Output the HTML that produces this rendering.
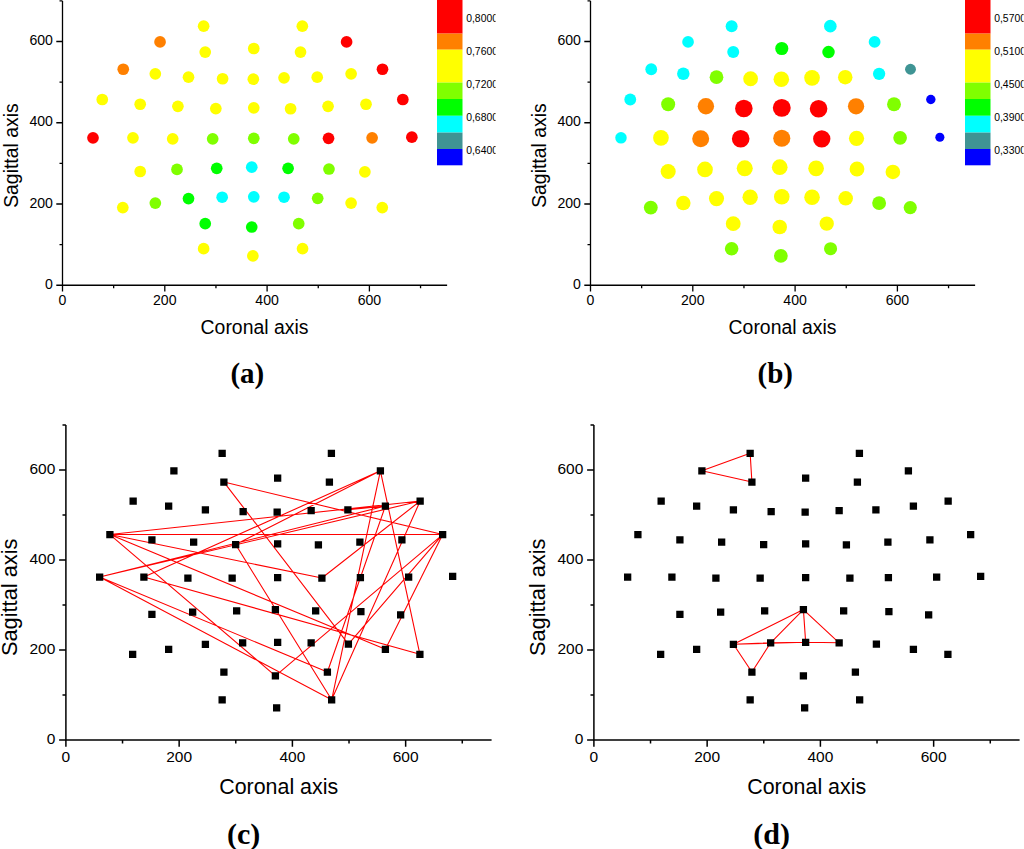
<!DOCTYPE html>
<html><head><meta charset="utf-8"><style>
html,body{margin:0;padding:0;background:#fff;}
svg{display:block;font-family:"Liberation Sans",sans-serif;}
</style></head><body>
<svg width="1024" height="849" viewBox="0 0 1024 849">
<defs><clipPath id="clipa"><rect x="0" y="0" width="495.6" height="849"/></clipPath><clipPath id="clipb"><rect x="528" y="0" width="495.6" height="849"/></clipPath></defs>
<rect width="1024" height="849" fill="#fff"/>
<path d="M62.5 0.88V285.25H447.12" fill="none" stroke="#000" stroke-width="1.3"/>
<path d="M62.5 285.25v6.2M113.65 285.25v3M164.8 285.25v6.2M215.95 285.25v3M267.1 285.25v6.2M318.25 285.25v3M369.4 285.25v6.2M420.55 285.25v3M62.5 285.25h-6.2M62.5 244.62h-3M62.5 204h-6.2M62.5 163.38h-3M62.5 122.75h-6.2M62.5 82.12h-3M62.5 41.5h-6.2M62.5 0.88h-3" fill="none" stroke="#000" stroke-width="1.3"/>
<text x="62.5" y="305.05" text-anchor="middle" font-size="14.1">0</text>
<text x="164.8" y="305.05" text-anchor="middle" font-size="14.1">200</text>
<text x="267.1" y="305.05" text-anchor="middle" font-size="14.1">400</text>
<text x="369.4" y="305.05" text-anchor="middle" font-size="14.1">600</text>
<text x="52.9" y="288.75" text-anchor="end" font-size="14.1">0</text>
<text x="52.9" y="207.5" text-anchor="end" font-size="14.1">200</text>
<text x="52.9" y="126.25" text-anchor="end" font-size="14.1">400</text>
<text x="52.9" y="45" text-anchor="end" font-size="14.1">600</text>
<text transform="translate(18.4 155.6) rotate(-90)" text-anchor="middle" font-size="19.4">Sagittal axis</text>
<text x="254.5" y="334.2" text-anchor="middle" font-size="19.4">Coronal axis</text>
<text x="247.3" y="383" text-anchor="middle" font-size="29" font-family="Liberation Serif" font-weight="bold">(a)</text>
<rect x="437" y="0" width="25.5" height="33.6" fill="#ff0000"/>
<rect x="437" y="33.6" width="25.5" height="16.1" fill="#ff8000"/>
<rect x="437" y="49.7" width="25.5" height="32.9" fill="#ffff00"/>
<rect x="437" y="82.6" width="25.5" height="16.4" fill="#80ff00"/>
<rect x="437" y="99" width="25.5" height="16.8" fill="#00ff00"/>
<rect x="437" y="115.8" width="25.5" height="16.8" fill="#00ffff"/>
<rect x="437" y="132.6" width="25.5" height="16.4" fill="#3f9494"/>
<rect x="437" y="149" width="25.5" height="16.3" fill="#0000ff"/>
<g clip-path="url(#clipa)">
<text x="466.2" y="22" font-size="10.4">0,8000</text>
<text x="466.2" y="55" font-size="10.4">0,7600</text>
<text x="466.2" y="88" font-size="10.4">0,7200</text>
<text x="466.2" y="121" font-size="10.4">0,6800</text>
<text x="466.2" y="154" font-size="10.4">0,6400</text>
</g>
<path d="M590.5 0.88V285.25H975.12" fill="none" stroke="#000" stroke-width="1.3"/>
<path d="M590.5 285.25v6.2M641.65 285.25v3M692.8 285.25v6.2M743.95 285.25v3M795.1 285.25v6.2M846.25 285.25v3M897.4 285.25v6.2M948.55 285.25v3M590.5 285.25h-6.2M590.5 244.62h-3M590.5 204h-6.2M590.5 163.38h-3M590.5 122.75h-6.2M590.5 82.12h-3M590.5 41.5h-6.2M590.5 0.88h-3" fill="none" stroke="#000" stroke-width="1.3"/>
<text x="590.5" y="305.05" text-anchor="middle" font-size="14.1">0</text>
<text x="692.8" y="305.05" text-anchor="middle" font-size="14.1">200</text>
<text x="795.1" y="305.05" text-anchor="middle" font-size="14.1">400</text>
<text x="897.4" y="305.05" text-anchor="middle" font-size="14.1">600</text>
<text x="580.9" y="288.75" text-anchor="end" font-size="14.1">0</text>
<text x="580.9" y="207.5" text-anchor="end" font-size="14.1">200</text>
<text x="580.9" y="126.25" text-anchor="end" font-size="14.1">400</text>
<text x="580.9" y="45" text-anchor="end" font-size="14.1">600</text>
<text transform="translate(546.4 155.6) rotate(-90)" text-anchor="middle" font-size="19.4">Sagittal axis</text>
<text x="782.5" y="334.2" text-anchor="middle" font-size="19.4">Coronal axis</text>
<text x="775.3" y="383" text-anchor="middle" font-size="29" font-family="Liberation Serif" font-weight="bold">(b)</text>
<rect x="965" y="0" width="25.5" height="33.6" fill="#ff0000"/>
<rect x="965" y="33.6" width="25.5" height="16.1" fill="#ff8000"/>
<rect x="965" y="49.7" width="25.5" height="32.9" fill="#ffff00"/>
<rect x="965" y="82.6" width="25.5" height="16.4" fill="#80ff00"/>
<rect x="965" y="99" width="25.5" height="16.8" fill="#00ff00"/>
<rect x="965" y="115.8" width="25.5" height="16.8" fill="#00ffff"/>
<rect x="965" y="132.6" width="25.5" height="16.4" fill="#3f9494"/>
<rect x="965" y="149" width="25.5" height="16.3" fill="#0000ff"/>
<g clip-path="url(#clipb)">
<text x="994.2" y="22" font-size="10.4">0,5700</text>
<text x="994.2" y="55" font-size="10.4">0,5100</text>
<text x="994.2" y="88" font-size="10.4">0,4500</text>
<text x="994.2" y="121" font-size="10.4">0,3900</text>
<text x="994.2" y="154" font-size="10.4">0,3300</text>
</g>
<circle cx="203.64" cy="26.15" r="5.85" fill="#ffff00"/>
<circle cx="160.06" cy="41.95" r="5.85" fill="#ff8000"/>
<circle cx="205.22" cy="52.11" r="5.85" fill="#ffff00"/>
<circle cx="123.25" cy="69.26" r="5.85" fill="#ff8000"/>
<circle cx="155.32" cy="73.78" r="5.85" fill="#ffff00"/>
<circle cx="188.51" cy="77.16" r="5.85" fill="#ffff00"/>
<circle cx="102.25" cy="99.5" r="5.85" fill="#ffff00"/>
<circle cx="140.18" cy="104.24" r="5.85" fill="#ffff00"/>
<circle cx="177.9" cy="106.28" r="5.85" fill="#ffff00"/>
<circle cx="215.84" cy="108.53" r="5.85" fill="#ffff00"/>
<circle cx="92.99" cy="137.87" r="5.85" fill="#ff0000"/>
<circle cx="132.96" cy="137.87" r="5.85" fill="#ffff00"/>
<circle cx="172.7" cy="138.78" r="5.85" fill="#ffff00"/>
<circle cx="212.68" cy="138.78" r="5.85" fill="#80ff00"/>
<circle cx="140.18" cy="171.5" r="5.85" fill="#ffff00"/>
<circle cx="176.99" cy="169.47" r="5.85" fill="#80ff00"/>
<circle cx="216.74" cy="168.34" r="5.85" fill="#00ff00"/>
<circle cx="302.33" cy="26.15" r="5.85" fill="#ffff00"/>
<circle cx="346.59" cy="41.95" r="5.85" fill="#ff0000"/>
<circle cx="253.78" cy="48.5" r="5.85" fill="#ffff00"/>
<circle cx="300.52" cy="52.11" r="5.85" fill="#ffff00"/>
<circle cx="382.5" cy="69.26" r="5.85" fill="#ff0000"/>
<circle cx="222.61" cy="78.74" r="5.85" fill="#ffff00"/>
<circle cx="253.32" cy="79.19" r="5.85" fill="#ffff00"/>
<circle cx="284.04" cy="77.84" r="5.85" fill="#ffff00"/>
<circle cx="317.23" cy="77.16" r="5.85" fill="#ffff00"/>
<circle cx="351.11" cy="73.78" r="5.85" fill="#ffff00"/>
<circle cx="402.82" cy="99.5" r="5.85" fill="#ff0000"/>
<circle cx="253.78" cy="107.86" r="5.85" fill="#ffff00"/>
<circle cx="290.59" cy="108.76" r="5.85" fill="#ffff00"/>
<circle cx="328.07" cy="106.28" r="5.85" fill="#ffff00"/>
<circle cx="366.01" cy="104.24" r="5.85" fill="#ffff00"/>
<circle cx="253.78" cy="138.32" r="5.85" fill="#80ff00"/>
<circle cx="293.75" cy="138.78" r="5.85" fill="#80ff00"/>
<circle cx="328.53" cy="138.32" r="5.85" fill="#ff0000"/>
<circle cx="372.11" cy="137.87" r="5.85" fill="#ff8000"/>
<circle cx="411.86" cy="137.2" r="5.85" fill="#ff0000"/>
<circle cx="251.74" cy="167.21" r="5.85" fill="#00ffff"/>
<circle cx="288.1" cy="168.34" r="5.85" fill="#00ff00"/>
<circle cx="328.98" cy="169.02" r="5.85" fill="#80ff00"/>
<circle cx="364.88" cy="171.95" r="5.85" fill="#ffff00"/>
<circle cx="122.8" cy="207.61" r="5.85" fill="#ffff00"/>
<circle cx="155.32" cy="203.1" r="5.85" fill="#80ff00"/>
<circle cx="188.51" cy="198.58" r="5.85" fill="#00ff00"/>
<circle cx="205.22" cy="223.64" r="5.85" fill="#00ff00"/>
<circle cx="203.64" cy="248.69" r="5.85" fill="#ffff00"/>
<circle cx="222.16" cy="197.23" r="5.85" fill="#00ffff"/>
<circle cx="253.78" cy="196.78" r="5.85" fill="#00ffff"/>
<circle cx="284.04" cy="197.23" r="5.85" fill="#00ffff"/>
<circle cx="317.69" cy="198.36" r="5.85" fill="#80ff00"/>
<circle cx="351.11" cy="203.1" r="5.85" fill="#ffff00"/>
<circle cx="382.27" cy="207.61" r="5.85" fill="#ffff00"/>
<circle cx="251.74" cy="227.02" r="5.85" fill="#00ff00"/>
<circle cx="298.72" cy="223.64" r="5.85" fill="#80ff00"/>
<circle cx="252.87" cy="255.91" r="5.85" fill="#ffff00"/>
<circle cx="302.55" cy="248.69" r="5.85" fill="#ffff00"/>
<circle cx="731.64" cy="26.15" r="6" fill="#00ffff"/>
<circle cx="688.06" cy="41.95" r="5.85" fill="#00ffff"/>
<circle cx="733.22" cy="52.11" r="6" fill="#00ffff"/>
<circle cx="651.25" cy="69.26" r="5.9" fill="#00ffff"/>
<circle cx="683.32" cy="73.78" r="6.25" fill="#00ffff"/>
<circle cx="716.51" cy="77.16" r="6.85" fill="#80ff00"/>
<circle cx="630.25" cy="99.5" r="5.9" fill="#00ffff"/>
<circle cx="668.18" cy="104.24" r="7" fill="#80ff00"/>
<circle cx="705.9" cy="106.28" r="8.2" fill="#ff8000"/>
<circle cx="743.84" cy="108.53" r="8.75" fill="#ff0000"/>
<circle cx="620.99" cy="137.87" r="5.75" fill="#00ffff"/>
<circle cx="660.96" cy="137.87" r="7.85" fill="#ffff00"/>
<circle cx="700.7" cy="138.78" r="8.5" fill="#ff8000"/>
<circle cx="740.68" cy="138.78" r="8.8" fill="#ff0000"/>
<circle cx="668.18" cy="171.5" r="7.55" fill="#ffff00"/>
<circle cx="704.99" cy="169.47" r="7.85" fill="#ffff00"/>
<circle cx="744.74" cy="168.34" r="8.03" fill="#ffff00"/>
<circle cx="830.33" cy="26.15" r="6.3" fill="#00ffff"/>
<circle cx="874.59" cy="41.95" r="5.9" fill="#00ffff"/>
<circle cx="781.78" cy="48.5" r="6.55" fill="#00ff00"/>
<circle cx="828.52" cy="52.11" r="6.25" fill="#00ff00"/>
<circle cx="910.5" cy="69.26" r="5.45" fill="#3f9494"/>
<circle cx="750.61" cy="78.74" r="7.4" fill="#ffff00"/>
<circle cx="781.32" cy="79.19" r="7.8" fill="#ffff00"/>
<circle cx="812.04" cy="77.84" r="7.85" fill="#ffff00"/>
<circle cx="845.23" cy="77.16" r="7.25" fill="#ffff00"/>
<circle cx="879.11" cy="73.78" r="6.15" fill="#00ffff"/>
<circle cx="930.82" cy="99.5" r="4.7" fill="#0000ff"/>
<circle cx="781.78" cy="107.86" r="8.95" fill="#ff0000"/>
<circle cx="818.59" cy="108.76" r="8.8" fill="#ff0000"/>
<circle cx="856.07" cy="106.28" r="8.15" fill="#ff8000"/>
<circle cx="894.01" cy="104.24" r="6.95" fill="#80ff00"/>
<circle cx="781.78" cy="138.32" r="8.55" fill="#ff8000"/>
<circle cx="821.75" cy="138.78" r="8.65" fill="#ff0000"/>
<circle cx="856.53" cy="138.32" r="7.6" fill="#ffff00"/>
<circle cx="900.11" cy="137.87" r="6.85" fill="#80ff00"/>
<circle cx="939.86" cy="137.2" r="4.55" fill="#0000ff"/>
<circle cx="779.74" cy="167.21" r="7.85" fill="#ffff00"/>
<circle cx="816.1" cy="168.34" r="7.85" fill="#ffff00"/>
<circle cx="856.98" cy="169.02" r="7.4" fill="#ffff00"/>
<circle cx="892.88" cy="171.95" r="7.3" fill="#ffff00"/>
<circle cx="650.8" cy="207.61" r="6.95" fill="#80ff00"/>
<circle cx="683.32" cy="203.1" r="7.25" fill="#ffff00"/>
<circle cx="716.51" cy="198.58" r="7.55" fill="#ffff00"/>
<circle cx="733.22" cy="223.64" r="7.4" fill="#ffff00"/>
<circle cx="731.64" cy="248.69" r="6.78" fill="#80ff00"/>
<circle cx="750.16" cy="197.23" r="7.7" fill="#ffff00"/>
<circle cx="781.78" cy="196.78" r="7.8" fill="#ffff00"/>
<circle cx="812.04" cy="197.23" r="7.8" fill="#ffff00"/>
<circle cx="845.69" cy="198.36" r="7.25" fill="#ffff00"/>
<circle cx="879.11" cy="203.1" r="6.95" fill="#80ff00"/>
<circle cx="910.27" cy="207.61" r="6.6" fill="#80ff00"/>
<circle cx="779.74" cy="227.02" r="7.3" fill="#ffff00"/>
<circle cx="826.72" cy="223.64" r="7.15" fill="#ffff00"/>
<circle cx="780.87" cy="255.91" r="6.85" fill="#80ff00"/>
<circle cx="830.55" cy="248.69" r="6.55" fill="#80ff00"/>
<path d="M65.9 425V740H491.59" fill="none" stroke="#000" stroke-width="1.5"/>
<path d="M65.9 740v6.8M122.53 740v3.4M179.15 740v6.8M235.78 740v3.4M292.4 740v6.8M349.02 740v3.4M405.65 740v6.8M462.27 740v3.4M65.9 740h-6.8M65.9 695h-3.4M65.9 650h-6.8M65.9 605h-3.4M65.9 560h-6.8M65.9 515h-3.4M65.9 470h-6.8M65.9 425h-3.4" fill="none" stroke="#000" stroke-width="1.5"/>
<text x="65.9" y="761.75" text-anchor="middle" font-size="15.5">0</text>
<text x="179.15" y="761.75" text-anchor="middle" font-size="15.5">200</text>
<text x="292.4" y="761.75" text-anchor="middle" font-size="15.5">400</text>
<text x="405.65" y="761.75" text-anchor="middle" font-size="15.5">600</text>
<text x="55.3" y="743.85" text-anchor="end" font-size="15.5">0</text>
<text x="55.3" y="653.85" text-anchor="end" font-size="15.5">200</text>
<text x="55.3" y="563.85" text-anchor="end" font-size="15.5">400</text>
<text x="55.3" y="473.85" text-anchor="end" font-size="15.5">600</text>
<text transform="translate(16.5 597.3) rotate(-90)" text-anchor="middle" font-size="21.8">Sagittal axis</text>
<text x="278.7" y="793.9" text-anchor="middle" font-size="21.4">Coronal axis</text>
<text x="243.6" y="843.6" text-anchor="middle" font-size="30" font-family="Liberation Serif" font-weight="bold">(c)</text>
<path d="M109.9 534.55L420.15 501.05M347.9 509.8L385.4 506.05M109.9 534.55L442.65 534.55M109.9 534.55L321.9 578.05M321.9 578.05L420.15 501.05M109.9 534.55L275.4 675.8M109.9 534.55L385.4 649.3M99.65 577.05L420.15 501.05M99.65 577.05L385.4 506.05M99.65 577.05L327.4 672.05M99.65 577.05L331.65 699.8M143.9 577.05L380.4 470.8M143.9 577.05L419.9 654.3M223.9 482.05L442.65 534.55M223.9 482.05L348.4 644.05M235.65 544.55L331.65 699.8M235.65 544.55L380.4 470.8M380.4 470.8L331.65 699.8M380.4 470.8L419.9 654.3M385.4 506.05L327.4 672.05M420.15 501.05L331.65 699.8M442.65 534.55L275.4 675.8M442.65 534.55L348.4 644.05M442.65 534.55L385.4 649.3" fill="none" stroke="#ff0000" stroke-width="1.1"/>
<path d="M218.5 449.65h7.3v7.3h-7.3zM170.25 467.15h7.3v7.3h-7.3zM220.25 478.4h7.3v7.3h-7.3zM129.5 497.4h7.3v7.3h-7.3zM165 502.4h7.3v7.3h-7.3zM201.75 506.15h7.3v7.3h-7.3zM106.25 530.9h7.3v7.3h-7.3zM148.25 536.15h7.3v7.3h-7.3zM190 538.4h7.3v7.3h-7.3zM232 540.9h7.3v7.3h-7.3zM96 573.4h7.3v7.3h-7.3zM140.25 573.4h7.3v7.3h-7.3zM184.25 574.4h7.3v7.3h-7.3zM228.5 574.4h7.3v7.3h-7.3zM148.25 610.65h7.3v7.3h-7.3zM189 608.4h7.3v7.3h-7.3zM233 607.15h7.3v7.3h-7.3zM327.75 449.65h7.3v7.3h-7.3zM376.75 467.15h7.3v7.3h-7.3zM274 474.4h7.3v7.3h-7.3zM325.75 478.4h7.3v7.3h-7.3zM416.5 497.4h7.3v7.3h-7.3zM239.5 507.9h7.3v7.3h-7.3zM273.5 508.4h7.3v7.3h-7.3zM307.5 506.9h7.3v7.3h-7.3zM344.25 506.15h7.3v7.3h-7.3zM381.75 502.4h7.3v7.3h-7.3zM439 530.9h7.3v7.3h-7.3zM274 540.15h7.3v7.3h-7.3zM314.75 541.15h7.3v7.3h-7.3zM356.25 538.4h7.3v7.3h-7.3zM398.25 536.15h7.3v7.3h-7.3zM274 573.9h7.3v7.3h-7.3zM318.25 574.4h7.3v7.3h-7.3zM356.75 573.9h7.3v7.3h-7.3zM405 573.4h7.3v7.3h-7.3zM449 572.65h7.3v7.3h-7.3zM271.75 605.9h7.3v7.3h-7.3zM312 607.15h7.3v7.3h-7.3zM357.25 607.9h7.3v7.3h-7.3zM397 611.15h7.3v7.3h-7.3zM129 650.65h7.3v7.3h-7.3zM165 645.65h7.3v7.3h-7.3zM201.75 640.65h7.3v7.3h-7.3zM220.25 668.4h7.3v7.3h-7.3zM218.5 696.15h7.3v7.3h-7.3zM239 639.15h7.3v7.3h-7.3zM274 638.65h7.3v7.3h-7.3zM307.5 639.15h7.3v7.3h-7.3zM344.75 640.4h7.3v7.3h-7.3zM381.75 645.65h7.3v7.3h-7.3zM416.25 650.65h7.3v7.3h-7.3zM271.75 672.15h7.3v7.3h-7.3zM323.75 668.4h7.3v7.3h-7.3zM273 704.15h7.3v7.3h-7.3zM328 696.15h7.3v7.3h-7.3z" fill="#000"/>
<path d="M593.9 425V740H1019.59" fill="none" stroke="#000" stroke-width="1.5"/>
<path d="M593.9 740v6.8M650.52 740v3.4M707.15 740v6.8M763.77 740v3.4M820.4 740v6.8M877.02 740v3.4M933.65 740v6.8M990.27 740v3.4M593.9 740h-6.8M593.9 695h-3.4M593.9 650h-6.8M593.9 605h-3.4M593.9 560h-6.8M593.9 515h-3.4M593.9 470h-6.8M593.9 425h-3.4" fill="none" stroke="#000" stroke-width="1.5"/>
<text x="593.9" y="761.75" text-anchor="middle" font-size="15.5">0</text>
<text x="707.15" y="761.75" text-anchor="middle" font-size="15.5">200</text>
<text x="820.4" y="761.75" text-anchor="middle" font-size="15.5">400</text>
<text x="933.65" y="761.75" text-anchor="middle" font-size="15.5">600</text>
<text x="583.3" y="743.85" text-anchor="end" font-size="15.5">0</text>
<text x="583.3" y="653.85" text-anchor="end" font-size="15.5">200</text>
<text x="583.3" y="563.85" text-anchor="end" font-size="15.5">400</text>
<text x="583.3" y="473.85" text-anchor="end" font-size="15.5">600</text>
<text transform="translate(544.5 597.3) rotate(-90)" text-anchor="middle" font-size="21.8">Sagittal axis</text>
<text x="806.7" y="793.9" text-anchor="middle" font-size="21.4">Coronal axis</text>
<text x="771.6" y="843.6" text-anchor="middle" font-size="30" font-family="Liberation Serif" font-weight="bold">(d)</text>
<path d="M701.9 470.8L750.15 453.3M701.9 470.8L751.9 482.05M750.15 453.3L751.9 482.05M803.4 609.55L733.4 644.3M803.4 609.55L770.65 642.8M803.4 609.55L805.65 642.3M803.4 609.55L839.15 642.8M733.4 644.3L770.65 642.8M770.65 642.8L805.65 642.3M805.65 642.3L839.15 642.8M733.4 644.3L805.65 642.3M733.4 644.3L751.9 672.05M751.9 672.05L770.65 642.8" fill="none" stroke="#ff0000" stroke-width="1.1"/>
<path d="M746.5 449.65h7.3v7.3h-7.3zM698.25 467.15h7.3v7.3h-7.3zM748.25 478.4h7.3v7.3h-7.3zM657.5 497.4h7.3v7.3h-7.3zM693 502.4h7.3v7.3h-7.3zM729.75 506.15h7.3v7.3h-7.3zM634.25 530.9h7.3v7.3h-7.3zM676.25 536.15h7.3v7.3h-7.3zM718 538.4h7.3v7.3h-7.3zM760 540.9h7.3v7.3h-7.3zM624 573.4h7.3v7.3h-7.3zM668.25 573.4h7.3v7.3h-7.3zM712.25 574.4h7.3v7.3h-7.3zM756.5 574.4h7.3v7.3h-7.3zM676.25 610.65h7.3v7.3h-7.3zM717 608.4h7.3v7.3h-7.3zM761 607.15h7.3v7.3h-7.3zM855.75 449.65h7.3v7.3h-7.3zM904.75 467.15h7.3v7.3h-7.3zM802 474.4h7.3v7.3h-7.3zM853.75 478.4h7.3v7.3h-7.3zM944.5 497.4h7.3v7.3h-7.3zM767.5 507.9h7.3v7.3h-7.3zM801.5 508.4h7.3v7.3h-7.3zM835.5 506.9h7.3v7.3h-7.3zM872.25 506.15h7.3v7.3h-7.3zM909.75 502.4h7.3v7.3h-7.3zM967 530.9h7.3v7.3h-7.3zM802 540.15h7.3v7.3h-7.3zM842.75 541.15h7.3v7.3h-7.3zM884.25 538.4h7.3v7.3h-7.3zM926.25 536.15h7.3v7.3h-7.3zM802 573.9h7.3v7.3h-7.3zM846.25 574.4h7.3v7.3h-7.3zM884.75 573.9h7.3v7.3h-7.3zM933 573.4h7.3v7.3h-7.3zM977 572.65h7.3v7.3h-7.3zM799.75 605.9h7.3v7.3h-7.3zM840 607.15h7.3v7.3h-7.3zM885.25 607.9h7.3v7.3h-7.3zM925 611.15h7.3v7.3h-7.3zM657 650.65h7.3v7.3h-7.3zM693 645.65h7.3v7.3h-7.3zM729.75 640.65h7.3v7.3h-7.3zM748.25 668.4h7.3v7.3h-7.3zM746.5 696.15h7.3v7.3h-7.3zM767 639.15h7.3v7.3h-7.3zM802 638.65h7.3v7.3h-7.3zM835.5 639.15h7.3v7.3h-7.3zM872.75 640.4h7.3v7.3h-7.3zM909.75 645.65h7.3v7.3h-7.3zM944.25 650.65h7.3v7.3h-7.3zM799.75 672.15h7.3v7.3h-7.3zM851.75 668.4h7.3v7.3h-7.3zM801 704.15h7.3v7.3h-7.3zM856 696.15h7.3v7.3h-7.3z" fill="#000"/>
</svg></body></html>
